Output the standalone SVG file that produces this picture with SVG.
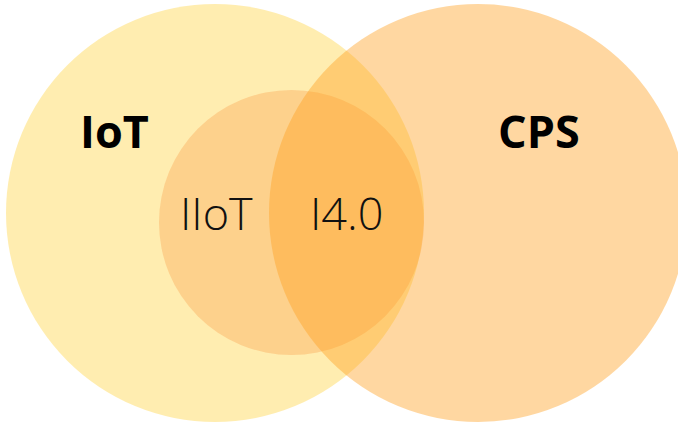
<svg xmlns="http://www.w3.org/2000/svg" width="678" height="424" viewBox="0 0 678 424">
  <style>
    .set-iot { fill: #FFC400; fill-opacity: 0.31; }
    .set-iiot { fill: #FA9440; fill-opacity: 0.32; }
    .set-cps { fill: #FFA020; fill-opacity: 0.42; }
    .big { font-family: "Open Sans", "Liberation Sans", sans-serif; font-weight: 700; font-size: 45px; fill: #000; }
    .small { font-family: "Open Sans", "Liberation Sans", sans-serif; font-weight: 300; font-size: 45px; fill: #111; }
  </style>
  <rect width="678" height="424" fill="#fff"/>
  <g id="iot">
    <circle class="set-iot" cx="215" cy="213" r="209"/>
    <text class="big" x="80" y="148">IoT</text>
  </g>
  <g id="iiot">
    <circle class="set-iiot" cx="291.5" cy="222.5" r="132.5"/>
    <text class="small" x="180" y="230">IIoT</text>
  </g>
  <g id="cps">
    <circle class="set-cps" cx="478" cy="213" r="209"/>
    <text class="big" x="498" y="148">CPS</text>
  </g>
  <g id="i40">
    <text class="small" x="310" y="230">I4.0</text>
  </g>
  <g id="connectors"/>
</svg>
